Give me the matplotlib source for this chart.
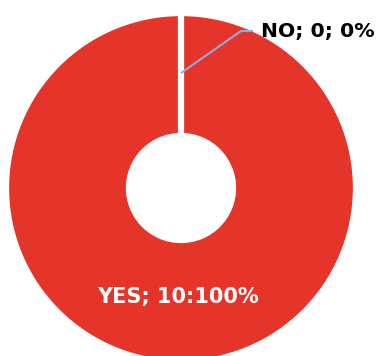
import matplotlib
matplotlib.use("Agg")
import matplotlib.pyplot as plt
import numpy as np

categories = ["YES", "NO"]
values = [10, 0]
percents = [100, 0]
label_texts = ["YES; 10:100%", "NO; 0; 0%"]

RED = "#E5352B"
W, H = 379, 356
fig = plt.figure(figsize=(W / 100, H / 100), dpi=100)
ax = fig.add_axes([0, 0, 1, 1])
ax.set_xlim(0, W)
ax.set_ylim(0, H)
ax.set_aspect("equal")
ax.axis("off")

cx, cy = 181, H - 188
r_out, r_in = 175, 52
wedges, _ = ax.pie(values, colors=[RED, "#A5A5A5"], startangle=90, counterclock=False,
                   radius=r_out, center=(cx, cy), frame=True,
                   wedgeprops=dict(width=r_out - r_in, edgecolor="white", linewidth=4.5))
ax.set_xlim(0, W)
ax.set_ylim(0, H)
ax.axis("off")

# YES label inside
ax.text(178, H - 297, label_texts[0], color="white", fontsize=15, fontweight="bold",
        family="DejaVu Sans", ha="center", va="center")

# NO label with leader line
w = wedges[1]
ang = np.deg2rad((w.theta1 + w.theta2) / 2)
r_lead = 115
x0, y0 = cx + r_lead * np.cos(ang), cy + r_lead * np.sin(ang)
x1, y1 = 241, H - 31
x2 = 253
ax.plot([x0, x1, x2], [y0, y1, y1], color="#8FAADC", lw=1.5, solid_capstyle="butt")
ax.text(261, y1, label_texts[1], color="black", fontsize=14.7, fontweight="bold",
        family="DejaVu Sans", ha="left", va="center")

fig.savefig("out.png", dpi=100)
